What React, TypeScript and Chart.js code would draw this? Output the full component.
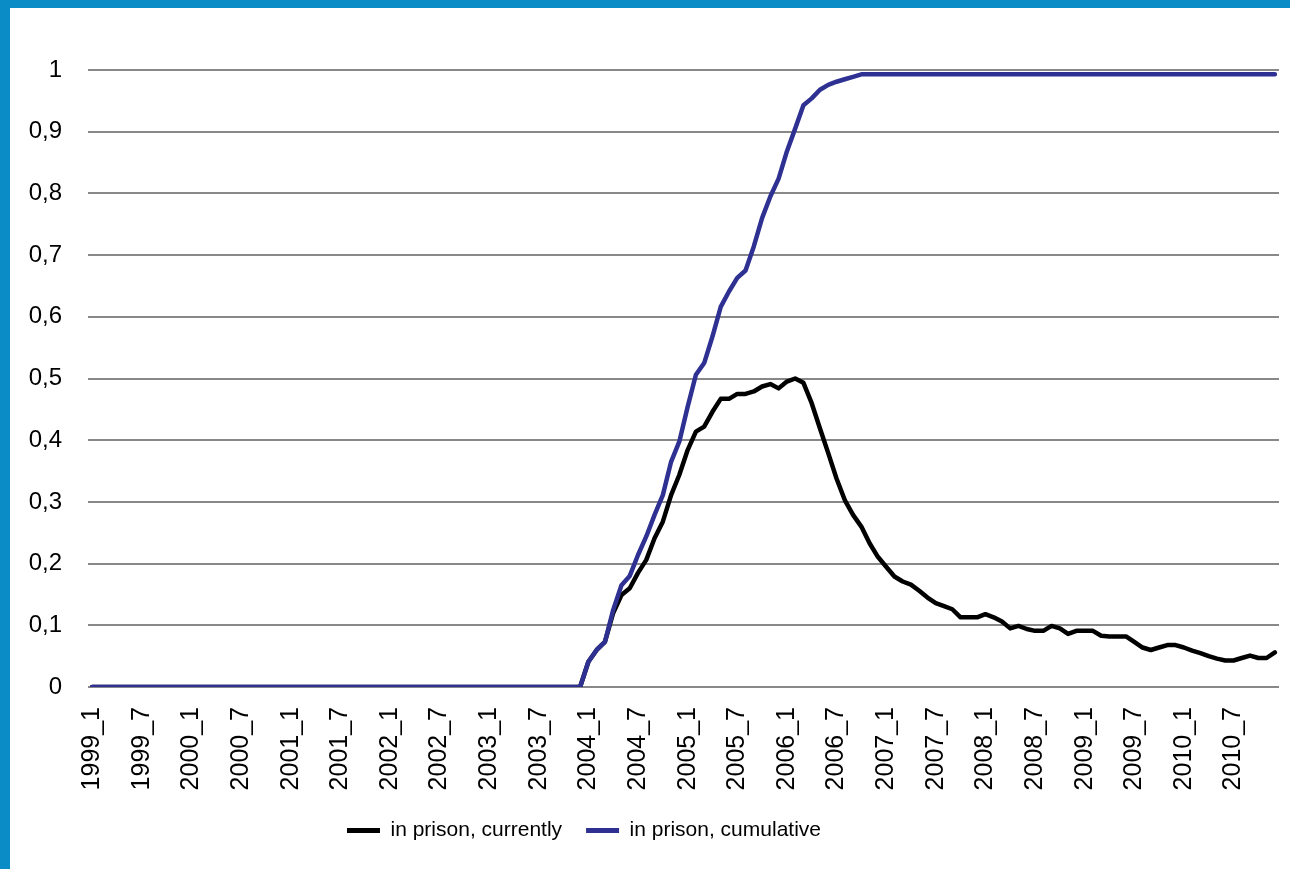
import React, { useEffect, useRef } from 'react';
import { Chart, registerables } from 'chart.js';

Chart.register(...registerables);

// ---------- data ----------
const YEARS = [1999, 2000, 2001, 2002, 2003, 2004, 2005, 2006, 2007, 2008, 2009, 2010];
const MONTHS = [1, 2, 3, 4, 5, 6, 7, 8, 9, 10, 11, 12];
const CATEGORIES: string[] = YEARS.flatMap((y) => MONTHS.map((m) => `${y}_${m}`));

const SERIES_NAMES = ['in prison, currently', 'in prison, cumulative'];

const CURRENTLY = [
  // 1999
  0, 0, 0, 0, 0, 0, 0, 0, 0, 0, 0, 0,
  // 2000
  0, 0, 0, 0, 0, 0, 0, 0, 0, 0, 0, 0,
  // 2001
  0, 0, 0, 0, 0, 0, 0, 0, 0, 0, 0, 0,
  // 2002
  0, 0, 0, 0, 0, 0, 0, 0, 0, 0, 0, 0,
  // 2003
  0, 0, 0, 0, 0, 0, 0, 0, 0, 0, 0, 0,
  // 2004
  0.041, 0.06, 0.073, 0.12, 0.149, 0.16, 0.185, 0.206, 0.241, 0.268, 0.311, 0.344,
  // 2005
  0.384, 0.414, 0.422, 0.446, 0.467, 0.467, 0.475, 0.475, 0.479, 0.487, 0.491, 0.484,
  // 2006
  0.495, 0.5, 0.493, 0.46, 0.419, 0.379, 0.338, 0.303, 0.279, 0.26, 0.233, 0.211,
  // 2007
  0.195, 0.179, 0.171, 0.166, 0.156, 0.145, 0.136, 0.131, 0.126, 0.113, 0.113, 0.113,
  // 2008
  0.118, 0.113, 0.106, 0.095, 0.099, 0.094, 0.091, 0.091, 0.099, 0.095, 0.086, 0.091,
  // 2009
  0.091, 0.091, 0.083, 0.082, 0.082, 0.082, 0.073, 0.064, 0.06, 0.064, 0.068, 0.068,
  // 2010
  0.064, 0.059, 0.055, 0.05, 0.046, 0.043, 0.043, 0.047, 0.051, 0.047, 0.047, 0.056,
];

const CUMULATIVE = [
  // 1999
  0, 0, 0, 0, 0, 0, 0, 0, 0, 0, 0, 0,
  // 2000
  0, 0, 0, 0, 0, 0, 0, 0, 0, 0, 0, 0,
  // 2001
  0, 0, 0, 0, 0, 0, 0, 0, 0, 0, 0, 0,
  // 2002
  0, 0, 0, 0, 0, 0, 0, 0, 0, 0, 0, 0,
  // 2003
  0, 0, 0, 0, 0, 0, 0, 0, 0, 0, 0, 0,
  // 2004
  0.041, 0.06, 0.073, 0.125, 0.165, 0.18, 0.214, 0.244, 0.279, 0.311, 0.365, 0.398,
  // 2005
  0.454, 0.506, 0.525, 0.568, 0.616, 0.641, 0.663, 0.675, 0.714, 0.76, 0.795, 0.824,
  // 2006
  0.868, 0.905, 0.943, 0.954, 0.968, 0.976, 0.981, 0.985, 0.989, 0.993, 0.993, 0.993,
  // 2007
  0.993, 0.993, 0.993, 0.993, 0.993, 0.993, 0.993, 0.993, 0.993, 0.993, 0.993, 0.993,
  // 2008
  0.993, 0.993, 0.993, 0.993, 0.993, 0.993, 0.993, 0.993, 0.993, 0.993, 0.993, 0.993,
  // 2009
  0.993, 0.993, 0.993, 0.993, 0.993, 0.993, 0.993, 0.993, 0.993, 0.993, 0.993, 0.993,
  // 2010
  0.993, 0.993, 0.993, 0.993, 0.993, 0.993, 0.993, 0.993, 0.993, 0.993, 0.993, 0.993,
];

const Y_TICK_LABELS = ['0', '0,1', '0,2', '0,3', '0,4', '0,5', '0,6', '0,7', '0,8', '0,9', '1'];
const X_LABEL_EVERY = 6;

// ---------- styles ----------
const FONT = "'Liberation Sans', Arial, sans-serif";
const FRAME_BLUE = '#0A8DC6';
const LINE_BLACK = '#000000';
const LINE_BLUE = '#2E3192';
const GRID_GRAY = '#888888';
const LEGEND_START_X = 337;

const legendShift = {
  id: 'legendShift',
  afterLayout(chart: any) {
    const lg = chart.legend;
    if (lg) {
      const w = lg.right - lg.left;
      const pad = lg.options.labels.padding;
      lg.left = LEGEND_START_X - pad;
      lg.right = lg.left + w;
    }
  },
};

export default function App() {
  const canvasRef = useRef<HTMLCanvasElement | null>(null);

  useEffect(() => {
    if (!canvasRef.current) return;
    const chart = new Chart(canvasRef.current, {
      type: 'line',
      data: {
        labels: CATEGORIES,
        datasets: [
          {
            label: SERIES_NAMES[0],
            data: CURRENTLY,
            borderColor: LINE_BLACK,
            backgroundColor: LINE_BLACK,
            borderWidth: 4.5,
            pointRadius: 0,
            tension: 0,
            borderJoinStyle: 'round',
            borderCapStyle: 'round',
            order: 2,
          },
          {
            label: SERIES_NAMES[1],
            data: CUMULATIVE,
            borderColor: LINE_BLUE,
            backgroundColor: LINE_BLUE,
            borderWidth: 4.5,
            pointRadius: 0,
            tension: 0,
            borderJoinStyle: 'round',
            borderCapStyle: 'round',
            order: 1,
          },
        ],
      },
      options: {
        responsive: false,
        animation: false,
        layout: { padding: { left: 0, right: 11, top: 62, bottom: 18 } },
        plugins: {
          tooltip: { enabled: false },
          legend: {
            position: 'bottom',
            align: 'start',
            labels: {
              color: '#000',
              font: { family: FONT, size: 21 },
              boxWidth: 33,
              boxHeight: 5,
              padding: 24,
              sort: (a: any, b: any) => a.datasetIndex - b.datasetIndex,
              generateLabels: (c: any) =>
                Chart.defaults.plugins.legend.labels
                  .generateLabels(c)
                  .map((l: any) => ({ ...l, lineWidth: 0 })),
            },
          },
        },
        scales: {
          x: {
            type: 'category',
            offset: true,
            grid: { display: false, drawTicks: false },
            border: { display: false },
            ticks: {
              autoSkip: false,
              minRotation: 90,
              maxRotation: 90,
              padding: 20,
              color: '#000',
              font: { family: FONT, size: 25 },
              callback: (_v: any, i: number) => (i % X_LABEL_EVERY === 0 ? CATEGORIES[i] : ''),
            },
            afterFit: (s: any) => {
              s.height = 109;
              s.paddingLeft = 0;
              s.paddingRight = 0;
            },
          },
          y: {
            min: 0,
            max: 1,
            grid: { color: GRID_GRAY, lineWidth: 2, drawTicks: false },
            border: { display: false },
            ticks: {
              stepSize: 0.1,
              padding: 26,
              color: '#000',
              font: { family: FONT, size: 24 },
              callback: (_v: any, i: number) => Y_TICK_LABELS[i],
            },
            afterFit: (s: any) => {
              s.width = 78;
            },
          },
        },
      },
      plugins: [legendShift],
    } as any);
    return () => chart.destroy();
  }, []);

  return (
    <div
      style={{
        position: 'absolute',
        left: 0,
        top: 0,
        width: 1290,
        height: 869,
        background: FRAME_BLUE,
        overflow: 'hidden',
      }}
    >
      <div
        style={{
          position: 'absolute',
          left: 10,
          top: 8,
          width: 1280,
          height: 861,
          background: '#ffffff',
        }}
      >
        <canvas ref={canvasRef} width={1280} height={861} style={{ display: 'block' }} />
      </div>
    </div>
  );
}
